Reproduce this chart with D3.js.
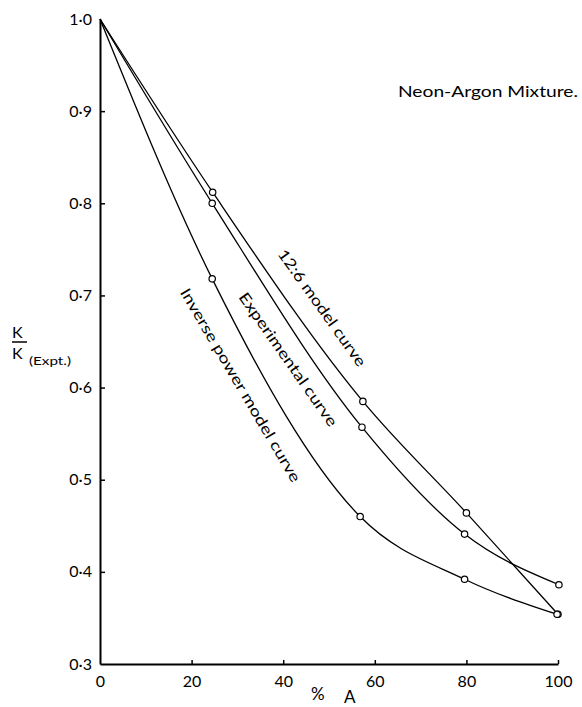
<!DOCTYPE html>
<html lang="en">
  <head>
    <meta charset="utf-8">
    <title>Neon-Argon Mixture</title>
    <script src="https://cdn.jsdelivr.net/npm/d3@7"></script>
    <style>
      body { margin: 0; background: #fff; }
      text { font-family: Lato, "Open Sans", sans-serif; fill: #000; }
    </style>
  </head>
  <body>
    <script>

      /*
      DATA
       */

      // % argon vs K / K(Expt.)
      const PCT_A_126 = [0, 24.6, 57.4, 80.0, 100.0];
      const K_126 = [1.0, 0.812, 0.585, 0.464, 0.354];

      const PCT_A_EXPT = [0, 24.5, 57.2, 79.6, 100.2];
      const K_EXPT = [1.0, 0.800, 0.557, 0.441, 0.386];

      const PCT_A_INV = [0, 24.5, 56.8, 79.6, 99.8];
      const K_INV = [1.0, 0.718, 0.460, 0.392, 0.354];

      const CURVE_NAMES = ["12:6 model curve", "Experimental curve", "Inverse power model curve"];

      const X_TICKS = [0, 20, 40, 60, 80, 100];
      const Y_TICKS = [0.3, 0.4, 0.5, 0.6, 0.7, 0.8, 0.9, 1.0];

      const TITLE = "Neon-Argon Mixture.";

      /*
      LAYOUT
       */

      const WIDTH = 582;
      const HEIGHT = 707;
      const X_LEFT = 100;
      const X_RIGHT = 558;
      const Y_TOP = 19;
      const Y_BOTTOM = 664;

      let svg = d3.select("body").append("svg")
        .attr("width", WIDTH)
        .attr("height", HEIGHT);

      let x = d3.scaleLinear().domain([0, 100]).range([X_LEFT, X_RIGHT]);
      let y = d3.scaleLinear().domain([0.3, 1.0]).range([Y_BOTTOM, Y_TOP]);

      function dot_fmt(v){
        return d3.format(".1f")(v).replace(".", "\u00b7");
      }

      /* axes */

      let g_xaxis = svg.append("g")
        .attr("transform", "translate(0," + Y_BOTTOM + ")")
        .call(d3.axisBottom(x).tickValues(X_TICKS).tickSize(-4).tickSizeOuter(0).tickPadding(12).tickFormat(d3.format("d")));

      let g_yaxis = svg.append("g")
        .attr("transform", "translate(" + X_LEFT + ",0)")
        .call(d3.axisLeft(y).tickValues(Y_TICKS).tickSize(-5).tickSizeOuter(0).tickPadding(8).tickFormat(dot_fmt));

      // no tick marks at the corner and at the top
      g_yaxis.selectAll(".tick").filter(d => d < 0.35 || d > 0.95).select("line").remove();
      g_xaxis.selectAll(".tick").filter(d => d === 0).select("line").remove();

      [g_xaxis, g_yaxis].forEach(function(g){
        g.select(".domain").attr("stroke", "#000").attr("stroke-width", 2);
        g.selectAll(".tick line").attr("stroke", "#000").attr("stroke-width", 1.5);
        g.selectAll(".tick text")
          .attr("font-family", "Lato, 'Open Sans', sans-serif")
          .attr("font-size", 16)
          .attr("fill", "#000");
      });

      /* curves */

      let series = [
        {name: CURVE_NAMES[0], pts: d3.zip(PCT_A_126, K_126)},
        {name: CURVE_NAMES[1], pts: d3.zip(PCT_A_EXPT, K_EXPT)},
        {name: CURVE_NAMES[2], pts: d3.zip(PCT_A_INV, K_INV)}
      ];

      let line = d3.line()
        .x(d => x(d[0]))
        .y(d => y(d[1]))
        .curve(d3.curveMonotoneX);

      svg.append("g").selectAll("path")
        .data(series)
        .join("path")
        .attr("d", d => line(d.pts))
        .attr("fill", "none")
        .attr("stroke", "#000")
        .attr("stroke-width", 1.3);

      // small open circles on the measured points (not at the origin 1.0)
      svg.append("g").selectAll("circle")
        .data(series.flatMap(s => s.pts.filter(p => p[0] > 0)))
        .join("circle")
        .attr("cx", d => x(d[0]))
        .attr("cy", d => y(d[1]))
        .attr("r", 3.2)
        .attr("fill", "#fff")
        .attr("stroke", "#000")
        .attr("stroke-width", 1.2);

      /* curve labels, written along the curves */

      // label centre in data units, angle in degrees, stretched length in px
      const LABEL_POS = [
        {px: 48.6, k: 0.687, angle: 54.5, len: 140},
        {px: 41.2, k: 0.631, angle: 55.0, len: 160},
        {px: 30.8, k: 0.603, angle: 59.5, len: 222}
      ];

      series.forEach(function(s, i){
        let p = LABEL_POS[i];
        svg.append("text")
          .attr("transform", "translate(" + x(p.px) + "," + y(p.k) + ") rotate(" + p.angle + ")")
          .attr("text-anchor", "middle")
          .attr("dominant-baseline", "central")
          .attr("font-size", 15)
          .attr("textLength", p.len)
          .attr("lengthAdjust", "spacingAndGlyphs")
          .text(s.name);
      });

      /* titles */

      svg.append("text")
        .attr("x", 398)
        .attr("y", 97)
        .attr("font-size", 15)
        .attr("textLength", 180)
        .attr("lengthAdjust", "spacingAndGlyphs")
        .text(TITLE);

      // y label: K over K(Expt.)
      let g_ylab = svg.append("g");
      g_ylab.append("text").attr("x", 12).attr("y", 338).attr("font-size", 16).text("K");
      g_ylab.append("line")
        .attr("x1", 12).attr("x2", 27).attr("y1", 342).attr("y2", 342)
        .attr("stroke", "#000").attr("stroke-width", 1.5);
      g_ylab.append("text").attr("x", 12).attr("y", 359).attr("font-size", 16).text("K");
      g_ylab.append("text").attr("x", 29).attr("y", 365).attr("font-size", 12)
        .attr("textLength", 42).attr("lengthAdjust", "spacingAndGlyphs").text("(Expt.)");

      // x label
      svg.append("text").attr("x", 311).attr("y", 700).attr("font-size", 17).text("%");
      svg.append("text").attr("x", 344).attr("y", 703).attr("font-size", 17).text("A");

    </script>
  </body>
</html>
